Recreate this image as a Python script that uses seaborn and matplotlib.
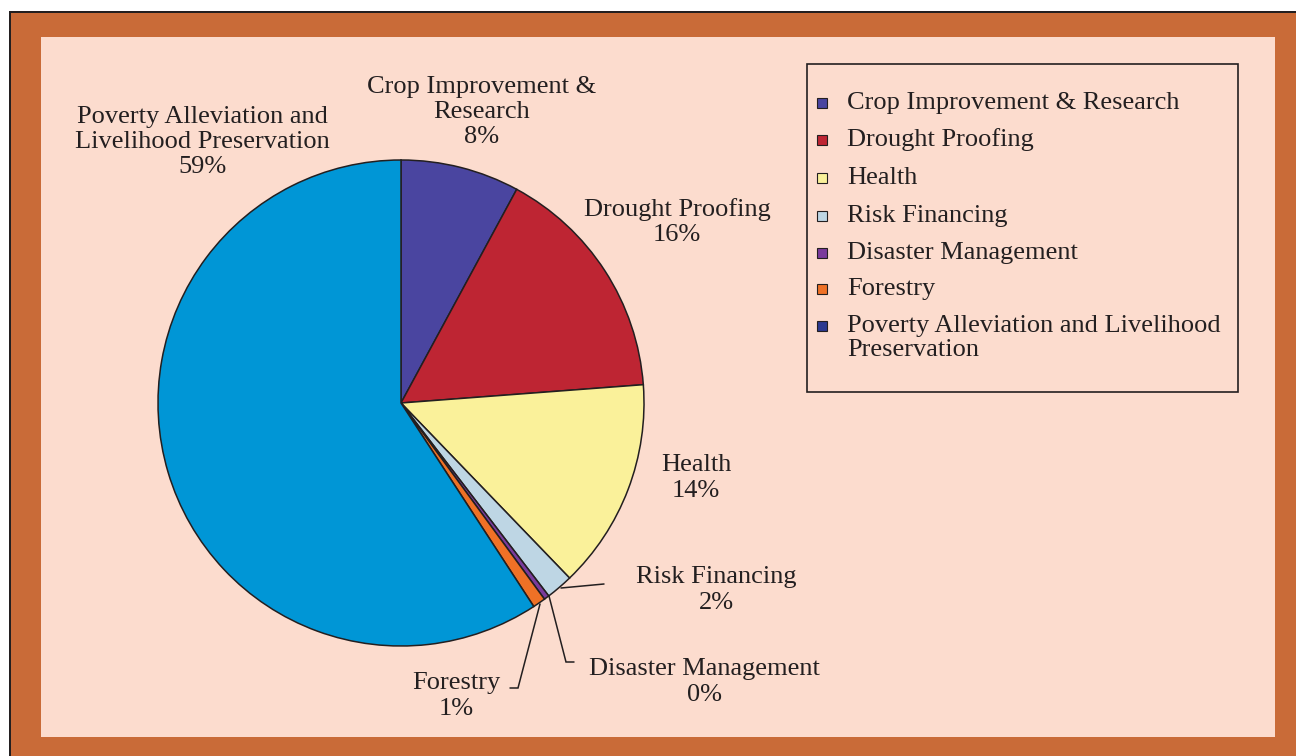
import matplotlib
matplotlib.use("Agg")
import matplotlib.pyplot as plt
import seaborn as sns
from matplotlib.patches import Rectangle

# ---------------- data ----------------
categories = ["Crop Improvement & Research", "Drought Proofing", "Health",
              "Risk Financing", "Disaster Management", "Forestry",
              "Poverty Alleviation and Livelihood Preservation"]
values = [7.9, 15.9, 14.0, 1.8, 0.35, 0.85, 59.2]
slice_labels = ["Crop Improvement &\nResearch", "Drought Proofing", "Health",
                "Risk Financing", "Disaster Management", "Forestry",
                "Poverty Alleviation and\nLivelihood Preservation"]
legend_labels = ["Crop Improvement & Research", "Drought Proofing", "Health",
                 "Risk Financing", "Disaster Management", "Forestry",
                 "Poverty Alleviation and Livelihood\nPreservation"]

# ---------------- style ----------------
sns.set_theme(style="white")
plt.rcParams["font.family"] = ["Liberation Serif", "DejaVu Serif"]

pie_colors = sns.color_palette(["#4A45A0", "#BE2533", "#FAF19A", "#BED6E4",
                                "#7A3B9C", "#EF7126", "#0096D6"])
legend_colors = ["#4A45A0", "#BE2533", "#FAF19A", "#BED6E4",
                 "#7A3B9C", "#EF7126", "#2B3990"]
DARK = "#231F20"
ORANGE = "#C96B38"
PINK = "#FCDCCE"
FS = 19
LS = 1.2

W, H = 1296, 756
fig = plt.figure(figsize=(W / 100, H / 100), dpi=100, facecolor="white")
ax = fig.add_axes([0, 0, 1, 1])


def Y(y):
    return H - y


# frame / panels (pixel coords)
ax.add_patch(Rectangle((9, Y(H + 5)), W, H + 5 - 11, facecolor=DARK, edgecolor="none", zorder=-3))
ax.add_patch(Rectangle((11, Y(H + 5)), W, H + 5 - 13, facecolor=ORANGE, edgecolor="none", zorder=-2))
ax.add_patch(Rectangle((41, Y(737)), 1275 - 41, 737 - 37, facecolor=PINK, edgecolor="none", zorder=-1))

# pie
cx, cy, R = 401, 403, 243
ax.pie(values, colors=pie_colors, startangle=90, counterclock=False,
       center=(cx, Y(cy)), radius=R,
       wedgeprops=dict(edgecolor=DARK, linewidth=1.1))

# slice labels
label_pos = [(482, 112), (677, 222), (696, 478), (716, 590),
             (704, 682), (456, 696), (202, 142)]
for lab, v, (x, y) in zip(slice_labels, values, label_pos):
    ax.text(x, Y(y), f"{lab}\n{round(v):.0f}%", ha="center", va="center",
            fontsize=FS, color=DARK, linespacing=LS, zorder=5)

# leader lines
leaders = [
    [(561, 588), (604, 584)],
    [(549, 596), (566, 662), (574, 662)],
    [(540, 604), (518, 688), (510, 688)],
]
for pts in leaders:
    ax.plot([p[0] for p in pts], [Y(p[1]) for p in pts], color=DARK, lw=1.1,
            solid_joinstyle="miter", zorder=4)

# legend box
ax.add_patch(Rectangle((807, Y(392)), 1238 - 807, 392 - 64, facecolor="none",
                       edgecolor=DARK, linewidth=1.2, zorder=4))
rows = [103, 140, 178, 216, 253, 289, 326]
for lab, col, ry in zip(legend_labels, legend_colors, rows):
    ax.add_patch(Rectangle((817, Y(ry + 5)), 10, 10, facecolor=col,
                           edgecolor=DARK, linewidth=0.8, zorder=5))
    nlines = lab.count("\n") + 1
    ax.text(847, Y(ry + 12 * (nlines - 1)), lab, ha="left", va="center",
            fontsize=FS, color=DARK, linespacing=1.1, zorder=5)

ax.set_xlim(0, W)
ax.set_ylim(0, H)
ax.set_aspect("auto")
ax.axis("off")

fig.savefig("out.png", dpi=100, facecolor="white")
